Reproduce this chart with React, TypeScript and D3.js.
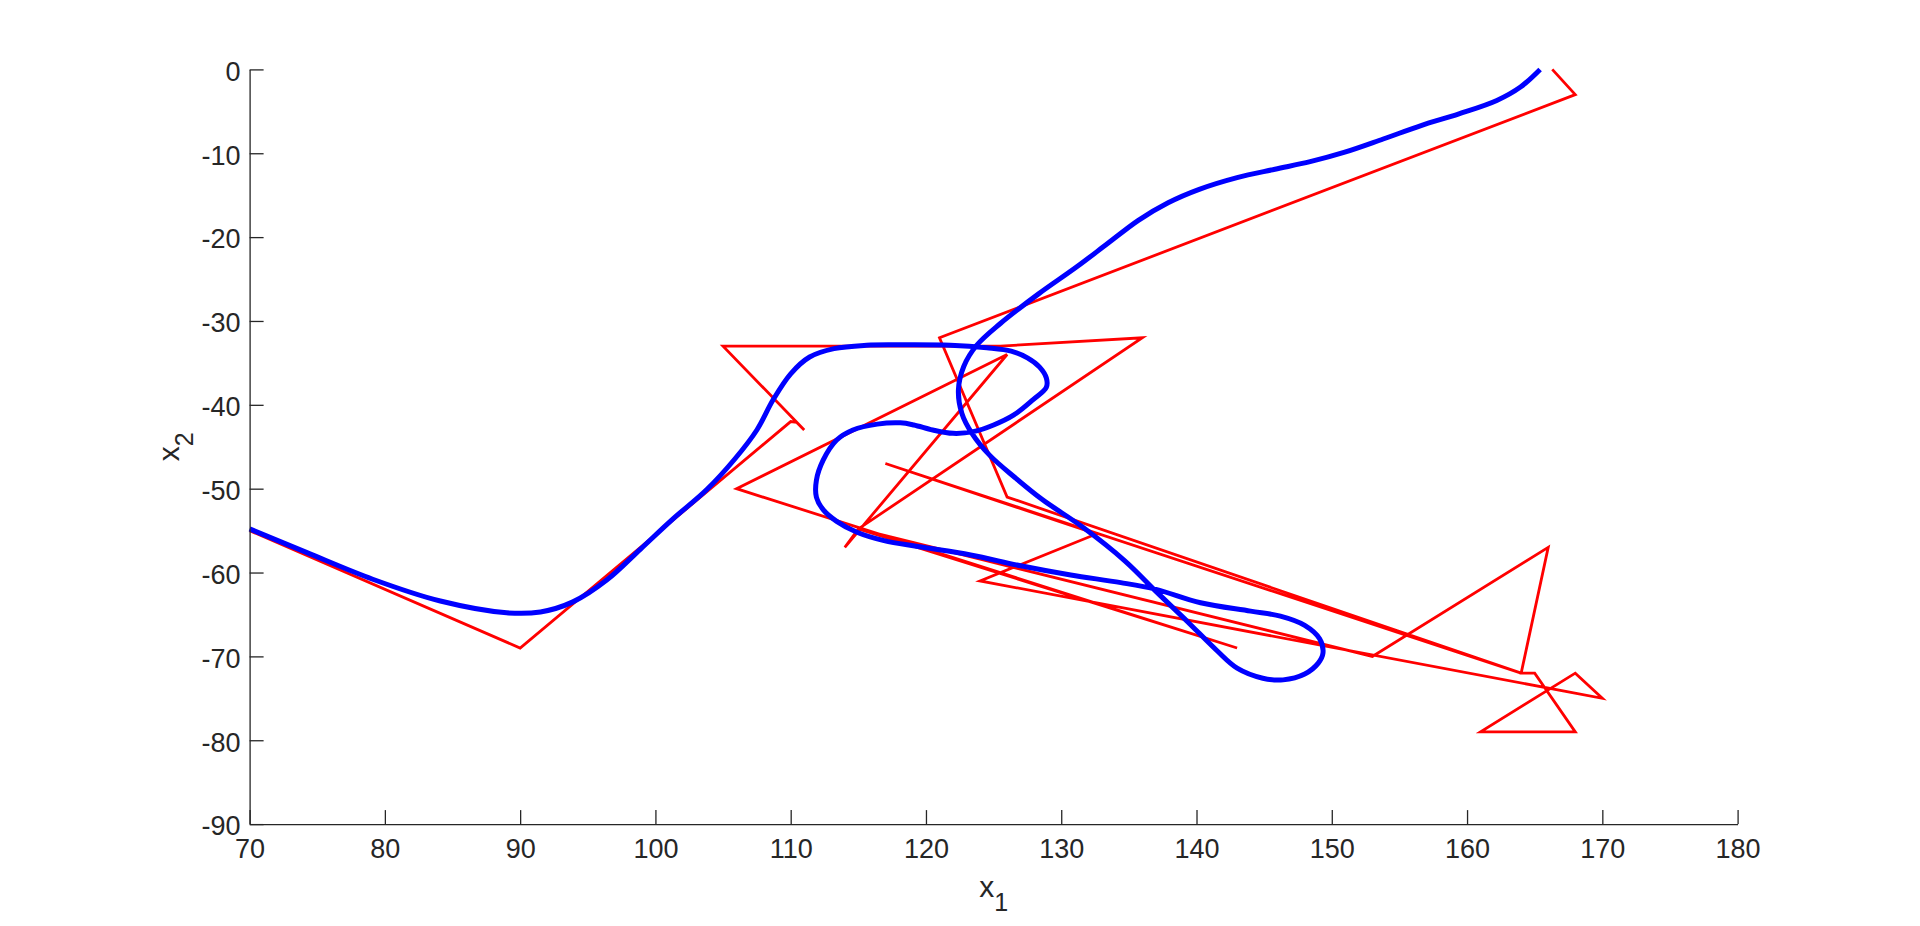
import React from "react";
import * as d3 from "d3";

// tick values of the two axes
const xTicks = [70, 80, 90, 100, 110, 120, 130, 140, 150, 160, 170, 180];
const yTicks = [0, -10, -20, -30, -40, -50, -60, -70, -80, -90];

// red: measured positions (x1, x2)
const measX = [70, 90, 110, 110.45, 111, 105, 125.5, 136, 115, 114, 126, 106, 143, 115, 153, 166, 164, 165, 168, 161, 168, 170, 124, 132.6, 117, 164, 126, 121, 168, 166.3];
const measY = [-55, -69, -42, -42.1, -43, -33, -33, -32, -54.8, -57, -34, -50, -69, -54.8, -70, -57, -72, -72, -79, -79, -72, -75, -61, -55.4, -47, -72, -51, -32, -3, 0];

// blue: estimated trajectory (x1, x2)
const estX = [70.0, 74.2, 79.1, 84.1, 89.0, 91.5, 93.9, 96.4, 98.9, 101.3, 103.8, 105.9, 107.5, 108.7, 110.0, 111.4, 113.2, 115.6, 118.1, 121.8, 124.5, 126.3, 127.5, 128.4, 128.9, 128.9, 127.9, 126.5, 125.0, 123.5, 122.0, 120.5, 119.1, 118.1, 116.4, 114.6, 113.4, 112.4, 111.9, 111.9, 112.4, 113.4, 114.9, 116.9, 119.4, 123.3, 127.0, 130.7, 134.4, 137.0, 140.3, 144.0, 146.2, 148.0, 149.1, 149.35, 149.0, 148.0, 146.4, 144.9, 143.0, 141.5, 139.3, 137.1, 134.7, 131.6, 128.6, 126.6, 124.7, 123.4, 122.65, 122.4, 122.8, 123.75, 125.5, 128.3, 131.1, 133.4, 135.7, 137.9, 140.2, 143.0, 145.8, 148.4, 150.9, 153.8, 156.6, 159.4, 162.2, 163.95, 165.4];
const estY = [-54.8, -57.6, -60.8, -63.4, -64.8, -64.7, -63.5, -60.9, -57.2, -53.6, -50.1, -46.4, -43.0, -39.4, -36.3, -34.3, -33.3, -32.9, -32.85, -32.9, -33.2, -33.6, -34.4, -35.5, -36.8, -37.9, -39.4, -41.2, -42.4, -43.2, -43.4, -43.0, -42.4, -42.15, -42.3, -43.0, -44.2, -46.6, -49.0, -51.0, -52.5, -53.9, -55.2, -56.2, -56.9, -57.9, -59.2, -60.3, -61.2, -62.0, -63.6, -64.6, -65.2, -66.3, -67.9, -69.6, -70.8, -72.1, -72.8, -72.6, -71.4, -69.3, -65.8, -62.4, -58.6, -54.6, -51.3, -48.7, -46.0, -43.4, -41.0, -38.2, -35.4, -32.9, -30.3, -26.8, -23.6, -20.8, -18.0, -15.9, -14.3, -12.9, -11.9, -11.0, -9.9, -8.3, -6.7, -5.3, -3.7, -2.1, 0];

export default function App() {
  const svgRef = React.useRef<SVGSVGElement>(null);
  const width = 1920;
  const height = 926;
  const margin = { left: 249.6, right: 182.4, top: 69.4, bottom: 101.9 };
  const axisColor = "#262626";
  const font = "'Liberation Sans', Arial, Helvetica, sans-serif";

  React.useEffect(() => {
    document.body.style.margin = "0";
    document.body.style.overflow = "hidden";

    const xScale = d3.scaleLinear().domain([70, 180]).range([margin.left, width - margin.right]);
    const yScale = d3.scaleLinear().domain([-90, 0]).range([height - margin.bottom, margin.top]);

    const svg = d3.select(svgRef.current);
    svg.selectAll("*").remove();

    const meas = measX.map((x, i) => [x, measY[i]] as [number, number]);
    const est = estX.map((x, i) => [x, estY[i]] as [number, number]);

    const lineMeas = d3.line<[number, number]>()
      .x(d => xScale(d[0]))
      .y(d => yScale(d[1]));

    const lineEst = d3.line<[number, number]>()
      .x(d => xScale(d[0]))
      .y(d => yScale(d[1]))
      .curve(d3.curveCatmullRom.alpha(0.5));

    // measurements first, estimate drawn on top
    svg.append("path")
      .attr("d", lineMeas(meas))
      .attr("fill", "none")
      .attr("stroke", "#ff0000")
      .attr("stroke-width", 2.8)
      .attr("stroke-linejoin", "miter");

    svg.append("path")
      .attr("d", lineEst(est))
      .attr("fill", "none")
      .attr("stroke", "#0000ff")
      .attr("stroke-width", 5)
      .attr("stroke-linejoin", "round");

    // axes, ticks point inward
    const xAxis = d3.axisBottom(xScale)
      .tickValues(xTicks)
      .tickFormat(d => String(d))
      .tickSizeInner(-14)
      .tickSizeOuter(0)
      .tickPadding(16);

    const yAxis = d3.axisLeft(yScale)
      .tickValues(yTicks)
      .tickFormat(d => String(d))
      .tickSizeInner(-14)
      .tickSizeOuter(0)
      .tickPadding(9);

    const gx = svg.append("g")
      .attr("transform", `translate(0,${height - margin.bottom})`)
      .call(xAxis);
    const gy = svg.append("g")
      .attr("transform", `translate(${margin.left},0)`)
      .call(yAxis);

    [gx, gy].forEach(g => {
      g.attr("color", axisColor)
        .attr("font-size", 27)
        .attr("font-family", font);
      g.select(".domain").attr("stroke-width", 1.3);
      g.selectAll(".tick line").attr("stroke-width", 1.3);
    });
    gx.selectAll(".tick text").attr("dy", "0.68em");
    gy.selectAll(".tick text").attr("dy", "0.4em");

    // axis labels
    const xl = svg.append("text")
      .attr("x", (margin.left + width - margin.right) / 2)
      .attr("y", 897)
      .attr("text-anchor", "middle")
      .attr("fill", axisColor)
      .attr("font-family", font)
      .attr("font-size", 30);
    xl.append("tspan").text("x");
    xl.append("tspan").attr("font-size", 25).attr("dy", 14).text("1");

    const yl = svg.append("text")
      .attr("transform", `translate(179,${(margin.top + height - margin.bottom) / 2}) rotate(-90)`)
      .attr("text-anchor", "middle")
      .attr("fill", axisColor)
      .attr("font-family", font)
      .attr("font-size", 30);
    yl.append("tspan").text("x");
    yl.append("tspan").attr("font-size", 25).attr("dy", 14).text("2");
  }, []);

  return <svg ref={svgRef} width={width} height={height} style={{ display: "block", background: "#fff" }} />;
}
